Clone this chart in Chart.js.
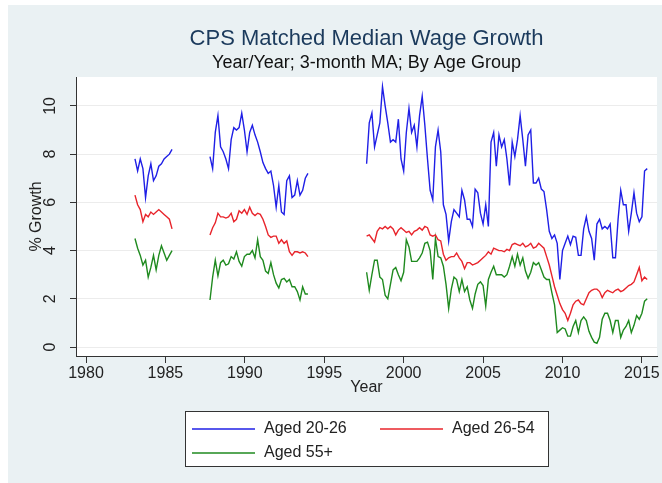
<!DOCTYPE html>
<html>
<head>
<meta charset="utf-8">
<title>CPS Matched Median Wage Growth</title>
<script src="https://cdn.jsdelivr.net/npm/chart.js@4.4.1/dist/chart.umd.min.js"></script>
<style>
  html, body { margin: 0; padding: 0; background: #fff; }
  #wrap { width: 662px; height: 483px; }
</style>
</head>
<body>
<div id="wrap"><canvas id="wageChart" width="662" height="483"></canvas></div>
<script>
// Three survey windows, each sampled every two months (first point, number of points)
const segStart = [1983.083, 1987.806, 1997.667];
const segCount = [15, 38, 107];
const step = 1 / 6;

// Year/year median wage growth (%), null marks the break between windows
const aged2026 = [
  7.8, 7.3, 7.8, 7.4, 6.2, 7.1, 7.6, 6.9, 7.1, 7.5, 7.6, 7.8, 7.9, 8.0, 8.2,
  null,
  7.9, 7.4, 8.9, 9.6, 8.3, 8.1, 7.8, 7.4, 8.6, 9.1, 9.0, 9.1, 9.7, 9.0, 8.1, 8.9, 9.2, 8.8, 8.5,
  8.1, 7.65, 7.4, 7.2, 7.3, 6.7, 5.8, 6.7, 5.6, 5.5, 6.9, 7.1, 6.2, 6.3, 6.9, 6.3, 6.5, 7.0, 7.2,
  null,
  7.6, 9.3, 9.7, 8.3, 8.8, 9.3, 10.8, 10.0, 9.3, 8.5, 8.6, 8.5, 9.45, 7.8, 7.3, 8.9, 9.9, 8.9,
  9.2, 8.3, 9.6, 10.4, 9.2, 7.8, 6.5, 6.1, 8.3, 9.0, 8.1, 5.9, 5.5, 4.4, 5.2, 5.7, 5.55, 5.4,
  6.5, 6.1, 5.3, 5.3, 5.0, 6.55, 6.4, 5.55, 5.1, 5.9, 5.0, 8.5, 8.9, 7.5, 8.8, 8.3, 8.6, 7.8,
  6.7, 8.5, 7.9, 8.6, 9.6, 8.6, 7.5, 8.8, 9.0, 6.8, 6.8, 7.0, 6.55, 6.45, 5.7, 4.8, 4.5, 4.65,
  4.3, 2.8, 4.0, 4.3, 4.6, 4.25, 4.6, 4.55, 3.8, 3.8, 4.9, 5.4, 4.8, 4.5, 3.6, 5.1, 5.3, 4.9,
  5.0, 4.9, 5.1, 3.7, 3.7, 5.3, 6.5, 5.9, 5.9, 4.8, 5.55, 6.4, 5.55, 5.2, 5.4, 7.3, 7.4
];
const aged2654 = [
  6.3, 5.9, 5.7, 5.2, 5.5, 5.4, 5.6, 5.5, 5.6, 5.7, 5.6, 5.5, 5.4, 5.3, 4.9,
  null,
  4.65, 4.95, 5.15, 5.55, 5.4, 5.4, 5.35, 5.4, 5.55, 5.2, 5.3, 5.65, 5.55, 5.7, 5.5, 5.8, 5.55,
  5.45, 5.55, 5.5, 5.3, 5.0, 4.65, 4.55, 4.6, 4.6, 4.3, 4.45, 4.3, 4.4, 3.95, 3.8, 3.95, 3.95,
  3.9, 3.95, 3.9, 3.75,
  null,
  4.6, 4.65, 4.5, 4.35, 4.8, 4.95, 4.9, 5.0, 4.9, 5.0, 4.9, 4.65, 4.85, 4.95, 4.85, 4.75, 4.8,
  4.65, 4.8, 4.85, 4.95, 4.85, 5.0, 4.95, 4.65, 4.6, 4.65, 4.45, 4.4, 3.85, 3.6, 3.7, 3.75,
  3.75, 3.9, 3.7, 3.55, 3.25, 3.5, 3.5, 3.4, 3.45, 3.5, 3.6, 3.7, 3.8, 3.95, 3.85, 4.1, 4.05,
  4.0, 4.0, 3.95, 4.05, 4.0, 4.25, 4.3, 4.25, 4.2, 4.3, 4.15, 4.2, 4.3, 4.1, 4.15, 4.3, 4.2,
  4.1, 3.75, 3.4, 2.95, 2.5, 2.15, 1.8, 1.55, 1.4, 1.1, 1.4, 1.75, 1.9, 1.95, 1.8, 1.75, 2.0,
  2.25, 2.35, 2.4, 2.4, 2.3, 2.05, 2.25, 2.35, 2.3, 2.25, 2.35, 2.4, 2.3, 2.35, 2.45, 2.55,
  2.6, 2.7, 3.0, 3.3, 2.75, 2.9, 2.8
];
const aged55 = [
  4.5, 4.1, 3.8, 3.4, 3.6, 2.9, 3.3, 3.8, 3.2, 3.8, 4.2, 3.9, 3.6, 3.8, 4.0,
  null,
  1.95, 2.9, 3.6, 2.95, 3.5, 3.6, 3.4, 3.45, 3.75, 3.65, 3.95, 3.55, 3.35, 3.75, 3.85, 3.85,
  4.0, 3.7, 4.45, 3.75, 3.6, 3.15, 3.05, 3.5, 3.0, 2.65, 2.45, 2.8, 2.85, 2.7, 2.8, 2.5, 2.5,
  2.3, 1.95, 2.5, 2.2, 2.2,
  null,
  3.1, 2.35, 3.0, 3.6, 3.6, 2.9, 2.8, 2.15, 2.0, 2.6, 3.2, 3.3, 3.0, 2.75, 3.1, 4.45, 4.15,
  3.55, 3.55, 3.55, 3.7, 3.9, 4.3, 4.35, 4.0, 2.8, 4.5, 3.75, 3.7, 3.35, 2.6, 1.6, 2.4, 2.9,
  2.8, 2.3, 2.8, 2.3, 2.5, 1.95, 1.6, 2.2, 2.6, 2.7, 2.55, 1.7, 2.8, 3.1, 3.35, 3.0, 3.0, 3.0,
  2.9, 3.0, 3.35, 3.75, 3.35, 3.85, 3.4, 3.7, 3.15, 2.85, 3.1, 3.5, 3.4, 3.5, 3.2, 2.9, 2.8,
  2.8, 2.25, 1.75, 0.6, 0.7, 0.8, 0.75, 0.45, 0.45, 0.85, 1.1, 0.6, 1.1, 1.25, 1.1, 0.65, 0.4,
  0.2, 0.15, 0.4, 1.15, 1.4, 1.4, 1.1, 0.6, 1.1, 1.1, 0.4, 0.7, 0.85, 1.1, 0.6, 0.9, 1.3,
  1.15, 1.4, 1.9, 2.0
];

const seriesLabels = ['Aged 20-26', 'Aged 26-54', 'Aged 55+'];
const xTicks = [1980, 1985, 1990, 1995, 2000, 2005, 2010, 2015];
const yTicks = [0, 2, 4, 6, 8, 10];

// x positions for every sample, with one extra slot for each break
const years = [];
segStart.forEach((s, i) => {
  if (i > 0) years.push(s - step);
  for (let k = 0; k < segCount[i]; k++) years.push(s + k * step);
});

const FONT = '"Liberation Sans", Arial, sans-serif';
const colors = ['#1f1fe6', '#e8242b', '#1f8a1f'];

function toPoints(vals) {
  return years.map((x, i) => ({ x: x, y: vals[i] }));
}

// background panels, title block, rotated y labels and the boxed legend
const frame = {
  id: 'frame',
  beforeDraw(chart) {
    const ctx = chart.ctx;
    const a = chart.chartArea;
    ctx.save();
    ctx.fillStyle = '#ffffff';
    ctx.fillRect(0, 0, chart.width, chart.height);
    ctx.fillStyle = '#eaf1f3';
    ctx.fillRect(8, 5, chart.width - 8, chart.height - 5);
    ctx.fillStyle = '#ffffff';
    ctx.fillRect(a.left, a.top, a.right - a.left, a.bottom - a.top);
    ctx.restore();
  },
  afterDraw(chart) {
    const ctx = chart.ctx;
    const a = chart.chartArea;
    const cx = (a.left + a.right) / 2;
    const yScale = chart.scales.y;
    ctx.save();

    ctx.textAlign = 'center';
    ctx.textBaseline = 'alphabetic';
    ctx.fillStyle = '#1b3a5c';
    ctx.font = '22px ' + FONT;
    ctx.fillText('CPS Matched Median Wage Growth', cx, 45);
    ctx.fillStyle = '#111';
    ctx.font = '18px ' + FONT;
    ctx.fillText('Year/Year; 3-month MA; By Age Group', cx, 68);

    // y tick labels and axis title run bottom to top
    ctx.font = '16px ' + FONT;
    ctx.fillStyle = '#222';
    ctx.textBaseline = 'middle';
    yTicks.forEach(v => {
      ctx.save();
      ctx.translate(51, yScale.getPixelForValue(v));
      ctx.rotate(-Math.PI / 2);
      ctx.fillText(String(v), 0, 0);
      ctx.restore();
    });
    ctx.save();
    ctx.translate(37, (a.top + a.bottom) / 2);
    ctx.rotate(-Math.PI / 2);
    ctx.fillText('% Growth', 0, 0);
    ctx.restore();

    ctx.fillText('Year', cx, 388);

    // legend
    const lx = 185.5, ly = 411.5, lw = 363, lh = 55;
    ctx.fillStyle = '#fff';
    ctx.fillRect(lx, ly, lw, lh);
    ctx.strokeStyle = '#333';
    ctx.lineWidth = 1;
    ctx.strokeRect(lx, ly, lw, lh);
    const slots = [[192, 429], [380, 429], [192, 453]];
    chart.data.datasets.forEach((ds, i) => {
      const [sx, sy] = slots[i];
      ctx.strokeStyle = ds.borderColor;
      ctx.lineWidth = 1.4;
      ctx.beginPath();
      ctx.moveTo(sx, sy);
      ctx.lineTo(sx + 63, sy);
      ctx.stroke();
      ctx.fillStyle = '#222';
      ctx.textAlign = 'left';
      ctx.fillText(ds.label, sx + 72, sy);
    });
    ctx.restore();
  }
};

new Chart(document.getElementById('wageChart'), {
  type: 'line',
  data: {
    datasets: [aged2026, aged2654, aged55].map((vals, i) => ({
      label: seriesLabels[i],
      data: toPoints(vals),
      borderColor: colors[i],
      borderWidth: 1.4,
      pointRadius: 0,
      tension: 0,
      spanGaps: false,
      fill: false
    }))
  },
  options: {
    responsive: false,
    animation: false,
    devicePixelRatio: 1,
    parsing: false,
    layout: { padding: { top: 77, right: 5, left: 0, bottom: 0 } },
    plugins: {
      legend: { display: false },
      title: { display: false },
      tooltip: { enabled: false }
    },
    scales: {
      x: {
        type: 'linear',
        min: 1979.37,
        max: 2015.95,
        afterBuildTicks: s => { s.ticks = xTicks.map(v => ({ value: v })); },
        afterFit: s => { s.height = 127; },
        ticks: {
          color: '#222',
          font: { family: FONT, size: 16 },
          padding: 1,
          maxRotation: 0,
          autoSkip: false,
          callback: v => String(v)
        },
        grid: { drawOnChartArea: false, tickLength: 7, tickColor: '#333' },
        border: { color: '#333', width: 1 }
      },
      y: {
        min: -0.373,
        max: 11.2,
        afterBuildTicks: s => { s.ticks = yTicks.map(v => ({ value: v })); },
        afterFit: s => { s.width = 76; },
        ticks: { display: false },
        grid: { color: '#ececec', tickLength: 6, tickColor: '#333' },
        border: { color: '#333', width: 1 }
      }
    }
  },
  plugins: [frame]
});
</script>
</body>
</html>
